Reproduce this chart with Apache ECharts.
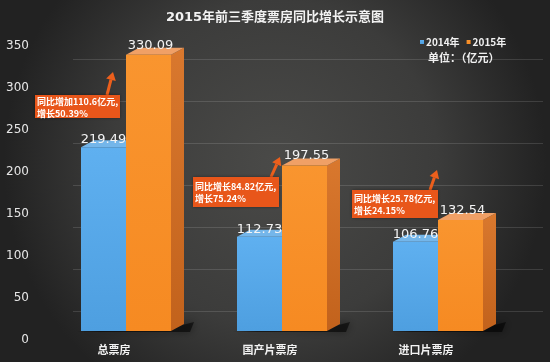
<!DOCTYPE html>
<html><head><meta charset="utf-8">
<script src="https://cdn.jsdelivr.net/npm/echarts@6/dist/echarts.min.js"></script>
<style>html,body{margin:0;padding:0;background:#333}#c{width:550px;height:362px}</style>
</head><body><div id="c"></div>
<script>
const titleText = '2015年前三季度票房同比增长示意图';
const unitText = '单位：（亿元）';
const categories = ['总票房', '国产片票房', '进口片票房'];
const seriesNames = ['2014年', '2015年'];
const values2014 = [219.49, 112.73, 106.76];
const values2015 = [330.09, 197.55, 132.54];
const yTickMax = 350;
const yTickStep = 50;
const notes = ['同比增加110.6亿元,\n增长50.39%', '同比增长84.82亿元,\n增长75.24%', '同比增长25.78亿元,\n增长24.15%'];

const FONT = '"Noto Sans CJK SC", "Noto Sans", sans-serif';
const NUMFONT = '"DejaVu Sans", "Noto Sans CJK SC", sans-serif';
const BW = 45, DX = 13, DY = 7;
const chart = echarts.init(document.getElementById('c'), null, {renderer: 'canvas'});

function faces(params, api) {
  const i = api.value(0), v14 = api.value(1), v15 = api.value(2);
  const base = api.coord([i, 0]);
  const t14 = api.coord([i, v14]);
  const t15 = api.coord([i, v15]);
  const cx = base[0], yb = base[1];
  const children = [];
  children.push({type: 'polygon', shape: {points: [[cx - BW - 4, yb + 1], [cx + BW + DX + 6, yb + 1], [cx + BW + DX + 10, yb - DY - 2], [cx + BW, yb - 3]]},
    style: {fill: 'rgba(0,0,0,0.55)', shadowBlur: 8, shadowColor: 'rgba(0,0,0,0.8)'}});
  children.push({type: 'polygon', shape: {points: [[cx - BW, t14[1]], [cx, t14[1]], [cx + DX, t14[1] - DY], [cx - BW + DX, t14[1] - DY]]},
    style: {fill: '#74b6ea'}});
  children.push({type: 'polygon', shape: {points: [[cx + BW, t15[1]], [cx + BW + DX, t15[1] - DY], [cx + BW + DX, yb - DY], [cx + BW, yb]]},
    style: {fill: new echarts.graphic.LinearGradient(0, 0, 0, 1, [{offset: 0, color: '#d9782e'}, {offset: 1, color: '#c2621c'}])}});
  children.push({type: 'polygon', shape: {points: [[cx, t15[1]], [cx + BW, t15[1]], [cx + BW + DX, t15[1] - DY], [cx + DX, t15[1] - DY]]},
    style: {fill: '#f0a066'}});
  return {type: 'group', children};
}

const annBoxes = [
  {x: 35, y: 95, w: 85, h: 23, ax: [107, 95], tip: [113, 72]},
  {x: 193, y: 177, w: 86, h: 30, ax: [271, 177], tip: [280, 157]},
  {x: 352, y: 190, w: 86, h: 28, ax: [430, 190], tip: [437, 170]}
];
const graphics = [{
  type: 'rect', z: -10, silent: true, shape: {x: 0, y: 0, width: 550, height: 362},
  style: {fill: new echarts.graphic.RadialGradient(0.5, 0.45, 0.75, [{offset: 0, color: '#4a4a48'}, {offset: 0.6, color: '#3c3c3b'}, {offset: 1, color: '#222222'}])}
}];
annBoxes.forEach((b, k) => {
  const vx = b.tip[0] - b.ax[0], vy = b.tip[1] - b.ax[1];
  const L = Math.hypot(vx, vy), ux = vx / L, uy = vy / L, px = -uy, py = ux;
  const hb = [b.tip[0] - ux * 8, b.tip[1] - uy * 8];
  graphics.push({type: 'polyline', z: 50, shape: {points: [b.ax, hb]}, style: {stroke: '#ec5f1c', lineWidth: 3}});
  graphics.push({type: 'polygon', z: 50, shape: {points: [b.tip, [hb[0] + px * 5, hb[1] + py * 5], [hb[0] - px * 5, hb[1] - py * 5]]}, style: {fill: '#ec5f1c'}});
  graphics.push({type: 'rect', z: 51, shape: {x: b.x, y: b.y, width: b.w, height: b.h}, style: {fill: '#e8561a', shadowBlur: 3, shadowColor: 'rgba(0,0,0,0.4)'}});
  graphics.push({type: 'text', z: 52, left: b.x + 2, top: b.y + (b.h - 24) / 2 + 1,
    style: {text: notes[k], fill: '#fff', font: 'bold 9px ' + FONT, lineHeight: 12}});
});
graphics.push({type: 'text', left: 428, top: 52, style: {text: unitText, fill: '#f0f0f0', font: 'bold 11px ' + FONT}});

const option = {
  animation: false,
  title: {text: titleText, left: 'center', top: 6, textStyle: {color: '#f2f2f2', fontSize: 13, fontWeight: 'bold', fontFamily: NUMFONT}},
  legend: {data: seriesNames, left: 415, top: 32, icon: 'rect', itemWidth: 4, itemHeight: 4, itemGap: 7,
    textStyle: {color: '#f0f0f0', fontSize: 10, fontWeight: 'bold', fontFamily: FONT, padding: [0, 0, 0, -3]}},
  color: ['#5aabec', '#f8902a'],
  graphic: graphics,
  grid: [
    {left: 48, right: 34, top: 38, bottom: 31},
    {left: 37, width: 5, top: 46, bottom: 22},
    {left: 73, right: 7, top: 59, bottom: 51}
  ],
  xAxis: [
    {type: 'category', data: categories, gridIndex: 0, axisLine: {show: false}, axisTick: {show: false},
      axisLabel: {color: '#f2f2f2', fontSize: 11, fontWeight: 'bold', fontFamily: FONT, margin: 13, padding: [0, 24, 0, 0]}},
    {type: 'value', gridIndex: 1, show: false},
    {type: 'value', gridIndex: 2, show: false}
  ],
  yAxis: [
    {type: 'value', gridIndex: 0, min: 0, max: yTickMax, show: false},
    {type: 'value', gridIndex: 1, min: 0, max: yTickMax, interval: yTickStep, axisLine: {show: false}, axisTick: {show: false}, splitLine: {show: false},
      axisLabel: {color: '#e6e6e6', fontSize: 12, fontFamily: NUMFONT, margin: 8}},
    {type: 'value', gridIndex: 2, min: 0, max: yTickMax - yTickStep, interval: yTickStep, axisLine: {show: false}, axisTick: {show: false},
      axisLabel: {show: false}, splitLine: {lineStyle: {color: 'rgba(255,255,255,0.13)', width: 1}}}
  ],
  series: [
    {type: 'custom', xAxisIndex: 0, yAxisIndex: 0, z: 1, silent: true,
      data: categories.map((c, i) => [i, values2014[i], values2015[i]]), renderItem: faces, encode: {x: 0, y: [1, 2]}},
    {name: seriesNames[0], type: 'bar', xAxisIndex: 0, yAxisIndex: 0, z: 2, barWidth: BW, barGap: '0%', data: values2014,
      itemStyle: {color: new echarts.graphic.LinearGradient(0, 0, 0, 1, [{offset: 0, color: '#5fb0f0'}, {offset: 1, color: '#4e9fe0'}])},
      label: {show: true, position: 'top', distance: 1, color: '#f4f4f4', fontSize: 13, fontFamily: NUMFONT}},
    {name: seriesNames[1], type: 'bar', xAxisIndex: 0, yAxisIndex: 0, z: 3, barWidth: BW, data: values2015,
      itemStyle: {color: new echarts.graphic.LinearGradient(0, 0, 0, 1, [{offset: 0, color: '#f9952f'}, {offset: 1, color: '#f68a22'}])},
      label: {show: true, position: 'top', distance: 3, offset: [2, 0], color: '#f4f4f4', fontSize: 13, fontFamily: NUMFONT}}
  ]
};
chart.setOption(option);
</script></body></html>
